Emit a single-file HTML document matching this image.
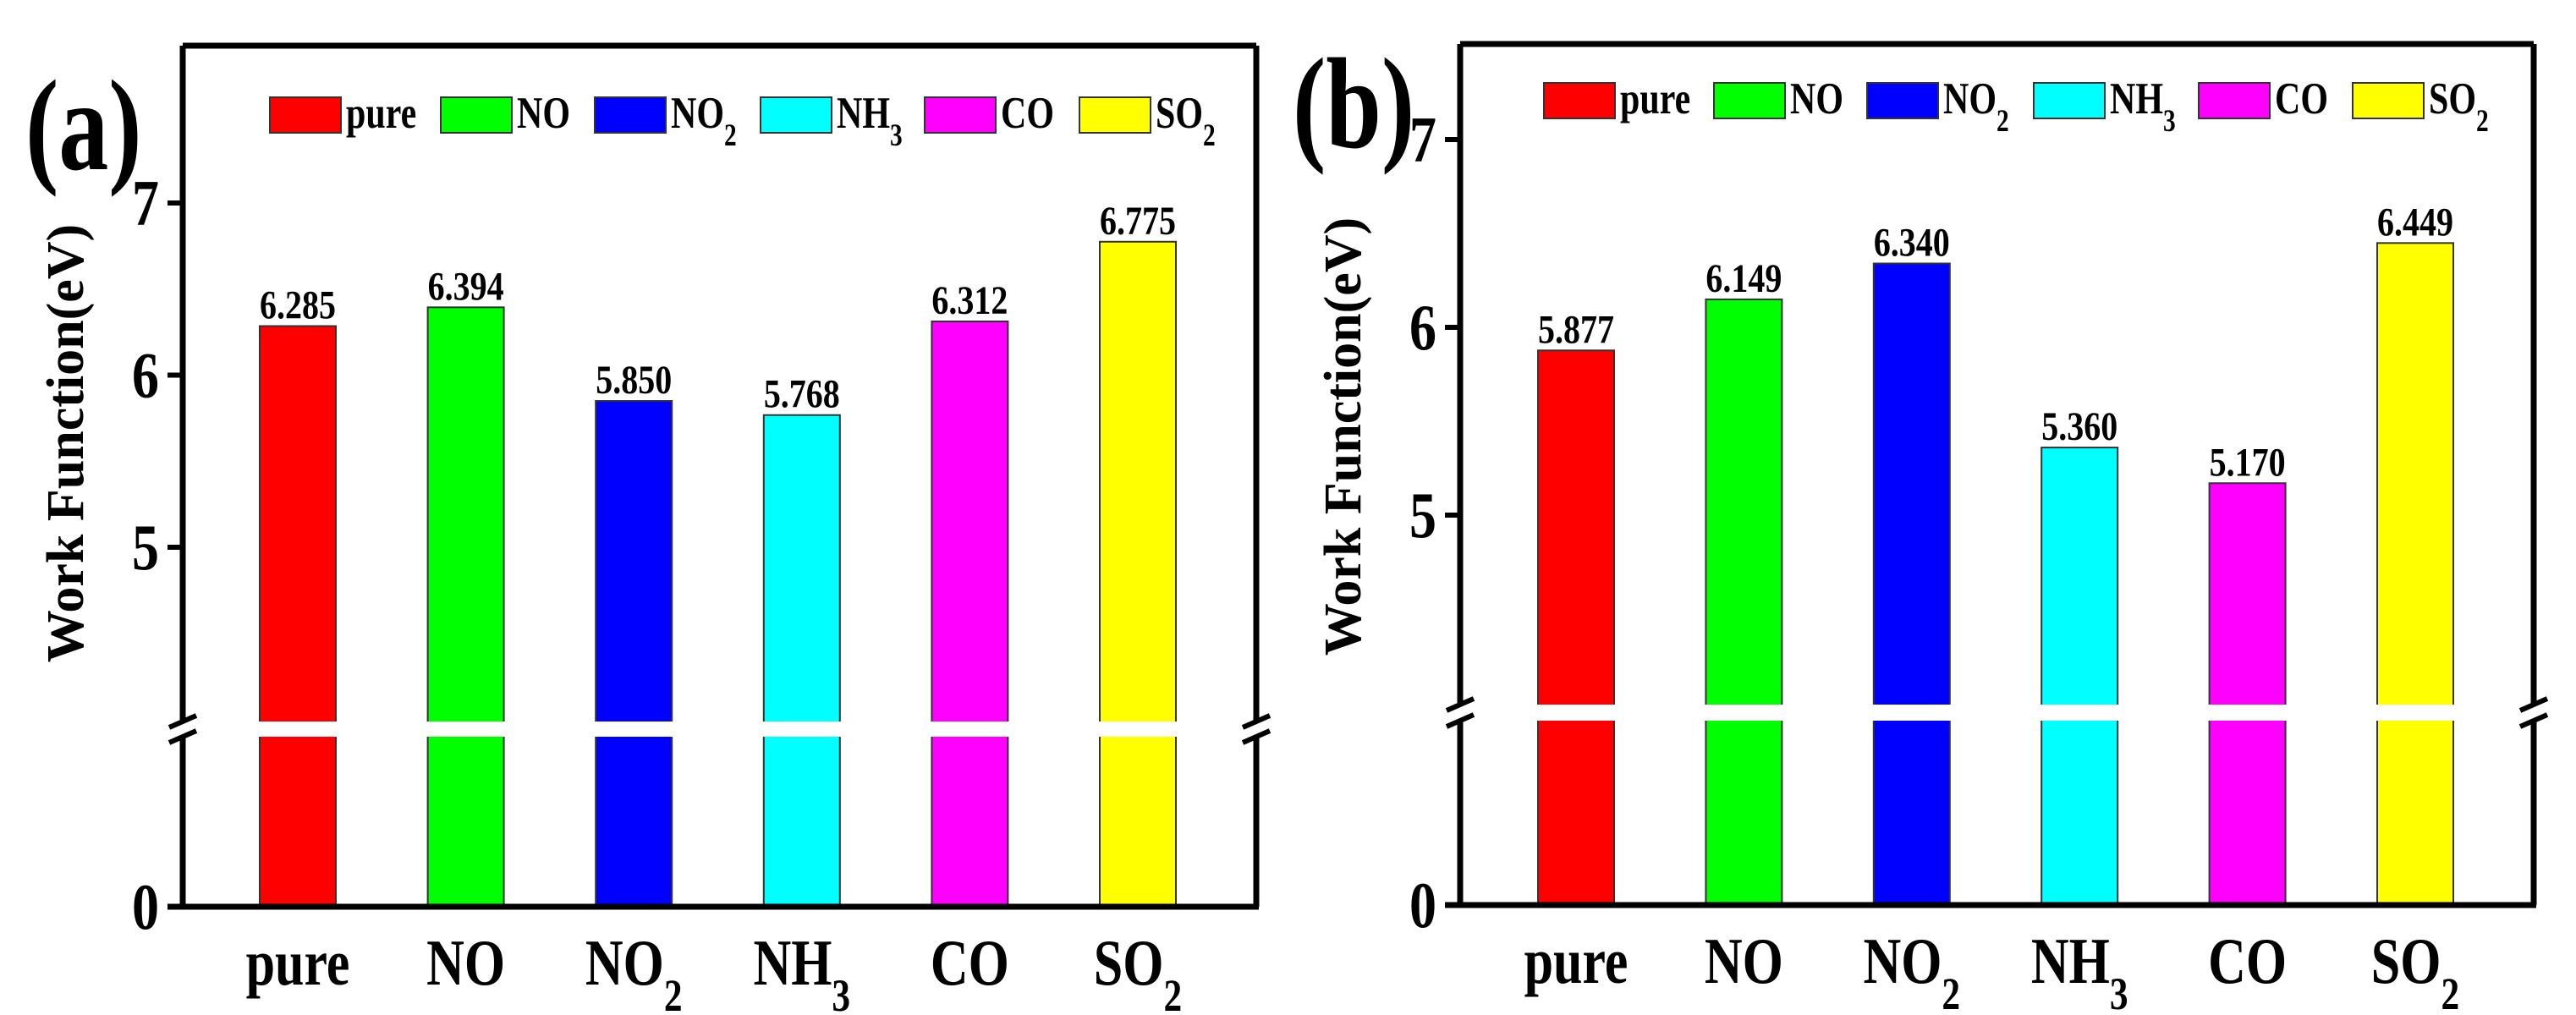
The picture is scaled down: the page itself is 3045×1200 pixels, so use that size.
<!DOCTYPE html>
<html><head><meta charset="utf-8"><style>
html,body{margin:0;padding:0;background:#fff;}
svg{display:block;font-family:"Liberation Serif",serif;font-weight:bold;}
</style></head><body>
<svg id="chart" width="3045" height="1200" viewBox="0 0 3045 1200"></svg>
<script>
const categories = ["pure","NO","NO2","NH3","CO","SO2"];
const labelsHtml = ["pure","NO","NO<tspan baseline-shift='sub' font-size='70%'>2</tspan>","NH<tspan baseline-shift='sub' font-size='70%'>3</tspan>","CO","SO<tspan baseline-shift='sub' font-size='70%'>2</tspan>"];
const colors = ["#ff0000","#00ff00","#0000ff","#00ffff","#ff00ff","#ffff00"];
const valuesA = [6.285,6.394,5.850,5.768,6.312,6.775];
const valuesB = [5.877,6.149,6.340,5.360,5.170,6.449];
const ticksA = [5,6,7];
const ticksB = [5,6,7];
const NS="http://www.w3.org/2000/svg";
const svg=document.getElementById('chart');
function el(tag,attrs,parent){const e=document.createElementNS(NS,tag);for(const k in attrs)e.setAttribute(k,attrs[k]);(parent||svg).appendChild(e);return e;}
function txt(x,y,size,anchor,sy,parent){return el('text',{x:0,y:0,'font-size':size,'text-anchor':anchor,transform:`translate(${x},${y}) scale(1,${sy})`},parent);}
const panels=[
 {id:'a',vals:valuesA,ticks:ticksA,L:216,R:1485,T:54,B:1072,y5:647,unit:203.5,brTop:853,brBot:871,c0:352,step:198.6,bw:90,legY:115,legX:[319,521,703,899,1093,1276],tag:'(a)',tagX:30,tagY:200,titleY:524},
 {id:'b',vals:valuesB,ticks:ticksB,L:1726,R:2995,T:52,B:1070,y5:609,unit:222,brTop:833,brBot:852,c0:1863,step:198.4,bw:90,legY:98,legX:[1825,2026,2207,2404,2599,2781],tag:'(b)',tagX:1528,tagY:174,titleY:516}
];
panels.forEach(p=>{
 const g=el('g',{});
 
 
 const yv=v=>p.y5-(v-5)*p.unit;
 p.vals.forEach((v,i)=>{
  const cx=p.c0+i*p.step, x=cx-p.bw/2, top=yv(v);
  const b=el('rect',{x:x,y:top,width:p.bw,height:p.B-top,fill:colors[i],stroke:'#333','stroke-width':2},g);
  
  
  const t=txt(cx,top-9,40,'middle',1.2,g);
  t.textContent=v.toFixed(3);
  
  
  const xl=txt(cx,p.B+92,62,'middle',1.25,g);
  xl.innerHTML=labelsHtml[i];
  
  
 });
 const gap=el('rect',{x:p.L+3,y:p.brTop,width:p.R-p.L-6,height:p.brBot-p.brTop,fill:'#fff'},g);
 
 
 el('line',{x1:p.L,y1:p.T,x2:p.R,y2:p.T,stroke:'#000','stroke-width':7},g);
 el('line',{x1:p.R,y1:p.T,x2:p.R,y2:p.brTop,stroke:'#000','stroke-width':7},g);
 el('line',{x1:p.R,y1:p.brBot,x2:p.R,y2:p.B,stroke:'#000','stroke-width':7},g);
 el('line',{x1:p.L,y1:p.T,x2:p.L,y2:p.brTop,stroke:'#000','stroke-width':7},g);
 el('line',{x1:p.L,y1:p.brBot,x2:p.L,y2:p.B,stroke:'#000','stroke-width':7},g);
 el('line',{x1:p.L-18,y1:p.B,x2:p.R+3,y2:p.B,stroke:'#000','stroke-width':7},g);
 [p.L,p.R].forEach(ax=>{
  [p.brTop,p.brBot].forEach(yy=>el('line',{x1:ax-16,y1:yy+7,x2:ax+16,y2:yy-7,stroke:'#000','stroke-width':6},g));
 });
 p.ticks.forEach(t=>{
  const y=yv(t);
  el('line',{x1:p.L-18,y1:y,x2:p.L,y2:y,stroke:'#000','stroke-width':6},g);
  const tl=txt(p.L-28,y+26,64,'end',1.2,g);
  tl.textContent=t;
  
  
 });
 const z=txt(p.L-28,p.B+26,64,'end',1.2,g);z.textContent='0';
 
 
 const yt=el('text',{x:0,y:0,'text-anchor':'middle','font-size':62,transform:`translate(${p.L-118},${p.titleY}) rotate(-90)`},g);
 yt.textContent='Work Function(eV)';
 
 
 const tg=txt(p.tagX,p.tagY,118,'start',1.3,g);
 tg.textContent=p.tag;
 
 
 p.legX.forEach((lx,i)=>{
  const lg=el('g',{},g);
  
  
  el('rect',{x:lx,y:p.legY,width:84,height:42,fill:colors[i],stroke:'#333','stroke-width':2},lg);
  const lt=txt(lx+90,p.legY+36,42,'start',1.25,lg);
  lt.innerHTML=labelsHtml[i];
 });
});
</script>
</body></html>
